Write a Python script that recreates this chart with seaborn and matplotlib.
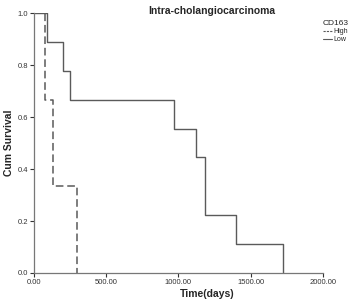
import numpy as np
import pandas as pd
import seaborn as sns
import matplotlib.pyplot as plt
from matplotlib.lines import Line2D

sns.set_style("white")
plt.rcParams['font.family'] = ['Liberation Sans', 'DejaVu Sans']

# death times (days), no censoring visible
high_times = [75, 130, 295]
low_times = [90, 200, 248, 966, 1124, 1186, 1186, 1400, 1724]
groups = ["High", "Low"]
x_ticks = [0, 500, 1000, 1500, 2000]
y_ticks = [0.0, 0.2, 0.4, 0.6, 0.8, 1.0]


def km_steps(times, label):
    t = np.sort(np.array(times, dtype=float))
    n = len(t)
    xs, ys = [0.0], [1.0]
    s = 1.0
    at_risk = n
    for u in np.unique(t):
        d = int((t == u).sum())
        s = s * (at_risk - d) / at_risk
        at_risk -= d
        xs.append(u)
        ys.append(s)
    return pd.DataFrame({"time": xs, "surv": ys, "group": label})


df = pd.concat([km_steps(high_times, "High"), km_steps(low_times, "Low")])

fig = plt.figure(figsize=(3.58, 3.05), dpi=100)
ax = fig.add_axes([0.095, 0.105, 0.807, 0.852])

col = "#5a5a5a"
sns.lineplot(data=df[df.group == "High"], x="time", y="surv", drawstyle="steps-post",
             estimator=None, color=col, lw=1.1, ax=ax, linestyle=(0, (5, 2.5)))
sns.lineplot(data=df[df.group == "Low"], x="time", y="surv", drawstyle="steps-post",
             estimator=None, color=col, lw=1.0, ax=ax)

ax.set_xlim(0, 2000)
ax.set_ylim(0, 1.0)
ax.set_xticks(x_ticks)
ax.set_xticklabels([f"{v:.2f}" for v in x_ticks])
ax.set_yticks(y_ticks)
ax.set_yticklabels([f"{v:.1f}" for v in y_ticks])
ax.tick_params(axis="both", labelsize=5.5, colors="#333333", length=3, width=0.8,
               direction="out", bottom=True, left=True, pad=1.5)
sns.despine(ax=ax)
for sp in ["left", "bottom"]:
    ax.spines[sp].set_color("#777777")
    ax.spines[sp].set_linewidth(0.9)

ax.set_xlabel("Time(days)", fontsize=7.5, fontweight="bold")
ax.set_ylabel("Cum Survival", fontsize=7.5, fontweight="bold")
ax.xaxis.set_label_coords(0.6, -0.06)
ax.yaxis.set_label_coords(-0.07, 0.5)

fig.text(0.592, 0.965, "Intra-cholangiocarcinoma", fontsize=7.5, fontweight="bold",
         ha="center", va="center")

handles = [Line2D([], [], color=col, lw=0.8, linestyle=(0, (2, 1))),
           Line2D([], [], color=col, lw=0.8)]
leg = fig.legend(handles, groups, title="CD163", loc="upper right",
                 bbox_to_anchor=(0.99, 0.955), frameon=False, fontsize=5,
                 title_fontsize=6, handlelength=1.3, handletextpad=0.2,
                 labelspacing=0.15)

fig.savefig("out.png", dpi=100)
